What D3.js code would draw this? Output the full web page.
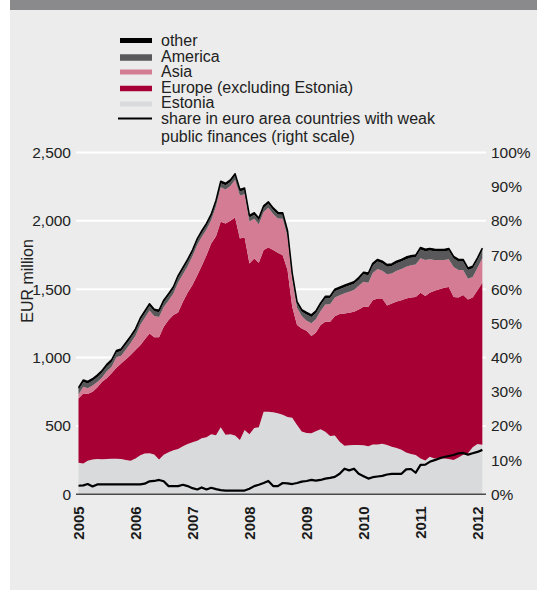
<!DOCTYPE html>
<html><head><meta charset="utf-8">
<script src="https://cdn.jsdelivr.net/npm/d3@7/dist/d3.min.js"></script>
<style>
html,body{margin:0;padding:0;background:#fff;}
svg text{font-family:"Liberation Sans",Arial,Helvetica,sans-serif;}
</style></head>
<body><svg id="c" width="537" height="590"></svg>
<script>
const months = ["2005-01","2005-02","2005-03","2005-04","2005-05","2005-06","2005-07","2005-08","2005-09","2005-10","2005-11","2005-12",
"2006-01","2006-02","2006-03","2006-04","2006-05","2006-06","2006-07","2006-08","2006-09","2006-10","2006-11","2006-12",
"2007-01","2007-02","2007-03","2007-04","2007-05","2007-06","2007-07","2007-08","2007-09","2007-10","2007-11","2007-12",
"2008-01","2008-02","2008-03","2008-04","2008-05","2008-06","2008-07","2008-08","2008-09","2008-10","2008-11","2008-12",
"2009-01","2009-02","2009-03","2009-04","2009-05","2009-06","2009-07","2009-08","2009-09","2009-10","2009-11","2009-12",
"2010-01","2010-02","2010-03","2010-04","2010-05","2010-06","2010-07","2010-08","2010-09","2010-10","2010-11","2010-12",
"2011-01","2011-02","2011-03","2011-04","2011-05","2011-06","2011-07","2011-08","2011-09","2011-10","2011-11","2011-12",
"2012-01","2012-02"];

// EUR million
const estonia = [231,226,245,255,258,256,258,260,260,258,250,246,262,285,298,300,292,255,290,308,322,332,352,368,380,392,410,418,440,432,490,435,440,430,397,470,440,485,490,604,604,600,592,582,565,560,507,460,448,446,462,475,458,426,430,385,355,358,360,360,358,352,365,365,370,360,348,338,325,305,294,288,262,248,275,262,268,262,258,250,270,290,300,345,368,362];
const europe = [469,512,488,495,524,567,590,625,666,699,737,772,793,806,835,877,856,893,935,966,989,998,1056,1106,1150,1211,1259,1331,1395,1456,1503,1545,1560,1595,1474,1410,1249,1240,1203,1182,1201,1186,1174,1167,1075,811,731,753,748,711,719,763,804,836,873,933,968,970,975,992,1013,1019,1055,1068,1063,1021,1048,1073,1095,1128,1146,1156,1212,1202,1199,1227,1231,1248,1259,1194,1170,1167,1125,1095,1125,1185];
const asia = [30,48,42,45,40,32,52,48,76,56,73,89,105,149,157,167,156,149,145,144,157,220,201,194,211,223,213,187,169,218,252,250,255,275,314,315,306,290,282,279,290,264,251,266,245,204,127,92,74,95,99,102,126,128,137,137,147,154,160,173,184,177,199,215,202,229,219,224,228,232,235,236,253,264,246,225,214,203,203,218,200,183,152,150,164,180];
const america = [35,35,35,35,35,35,35,35,35,35,35,35,35,35,35,35,35,35,35,35,35,35,35,35,30,30,30,30,30,30,30,30,30,30,30,30,30,30,30,30,30,30,30,30,30,30,30,30,45,45,45,45,45,45,45,45,45,45,45,45,55,55,55,55,55,55,55,55,55,55,55,55,63,63,63,63,63,63,63,63,63,63,63,63,58,58];
const other = [15,15,15,15,15,15,15,15,15,15,15,15,15,15,15,15,15,15,15,15,15,15,15,15,15,15,15,15,15,15,15,15,15,15,15,15,15,15,15,15,15,15,15,15,15,15,15,15,15,15,15,15,15,15,15,15,15,15,15,15,15,15,15,15,15,15,15,15,15,15,15,15,15,15,15,15,15,15,15,15,15,15,15,15,15,15];
// per cent, right scale
const share = [2.5,2.6,3.0,2.3,2.9,2.9,2.9,2.9,2.9,2.9,2.9,2.9,2.9,2.9,3.1,3.8,3.9,4.2,3.8,2.4,2.4,2.4,2.8,2.4,1.8,1.4,2.0,1.4,1.9,1.5,1.2,1.05,1.05,1.05,1.05,1.1,1.6,2.4,2.8,3.3,3.9,2.4,2.4,3.3,3.2,3.0,3.3,3.7,3.9,4.2,4.0,4.2,4.6,4.8,5.1,6.0,7.5,7.0,7.5,6.0,5.3,4.6,5.0,5.2,5.4,5.8,6.0,6.0,6.0,7.3,7.4,6.3,8.6,8.7,9.5,10.0,10.5,10.9,11.2,11.5,12.0,12.1,11.6,12.0,12.4,13.0];

const leftTicks = [0,500,1000,1500,2000,2500];
const rightTicks = [0,10,20,30,40,50,60,70,80,90,100];
const yearTicks = ["2005","2006","2007","2008","2009","2010","2011","2012"];

const seriesKeys = ["Estonia","Europe (excluding Estonia)","Asia","America","other"];
const seriesArrays = [estonia, europe, asia, america, other];
const colors = {"Estonia":"#d9dadc","Europe (excluding Estonia)":"#a70034","Asia":"#d47c93","America":"#58585b","other":"#000000"};

const parse = d3.timeParse("%Y-%m");
const rows = months.map((m,i)=>{
  const o = {date: parse(m), share: share[i]};
  seriesKeys.forEach((k,j)=>o[k]=seriesArrays[j][i]);
  return o;
});

const svg = d3.select("#c");
svg.append("rect").attr("x",10).attr("y",0).attr("width",527).attr("height",10).attr("fill","#8a8a8c");
svg.append("rect").attr("x",10).attr("y",10).attr("width",527).attr("height",580).attr("fill","#ebeceb");

const x = d3.scaleTime().domain([parse("2005-01"), parse("2012-01")]).range([78.5, 477.5]);
const y = d3.scaleLinear().domain([0,2500]).range([494.3,152.5]);
const yR = d3.scaleLinear().domain([0,100]).range([494.3,152.5]);
const gx0 = 76, gx1 = 486;

// gridlines
svg.append("g").selectAll("line").data(leftTicks.filter(d=>d>0)).join("line")
  .attr("x1",gx0).attr("x2",gx1).attr("y1",d=>y(d)).attr("y2",d=>y(d))
  .attr("stroke","#ffffff").attr("stroke-width",2);

// stacked areas
const stackGen = d3.stack().keys(seriesKeys);
const layers = stackGen(rows);
const area = d3.area().x(d=>x(d.data.date)).y0(d=>y(d[0])).y1(d=>y(d[1]));
svg.append("g").selectAll("path").data(layers).join("path")
  .attr("d",area).attr("fill",d=>colors[d.key]);

// top outline
const topLayer = layers[layers.length-1];
svg.append("path").datum(topLayer)
  .attr("d", d3.line().x(d=>x(d.data.date)).y(d=>y(d[1])))
  .attr("fill","none").attr("stroke","#000").attr("stroke-width",1.5).attr("stroke-linejoin","round");

// baseline
svg.append("line").attr("x1",gx0).attr("x2",gx1).attr("y1",y(0)).attr("y2",y(0))
  .attr("stroke","#4a4a4a").attr("stroke-width",1.5);

// share line
svg.append("path").datum(rows)
  .attr("d", d3.line().x(d=>x(d.date)).y(d=>yR(d.share)))
  .attr("fill","none").attr("stroke","#000").attr("stroke-width",2.2).attr("stroke-linejoin","round");

// axes
const ax = svg.append("g").attr("transform",`translate(${gx0},0)`)
  .call(d3.axisLeft(y).tickValues(leftTicks).tickFormat(d3.format(",")).tickSize(0).tickPadding(5));
ax.select(".domain").remove();
ax.selectAll("text").attr("font-size","15.5px").attr("fill","#222").style("font-family","'Liberation Sans',Arial,sans-serif");

const ar = svg.append("g").attr("transform",`translate(${gx1},0)`)
  .call(d3.axisRight(yR).tickValues(rightTicks).tickFormat(d=>d+"%").tickSize(0).tickPadding(5));
ar.select(".domain").remove();
ar.selectAll("text").attr("font-size","15.5px").attr("fill","#222").style("font-family","'Liberation Sans',Arial,sans-serif");

const ab = svg.append("g").attr("transform",`translate(0,${y(0)})`)
  .call(d3.axisBottom(x).tickValues(yearTicks.map(t=>d3.timeParse("%Y")(t))).tickFormat(d3.timeFormat("%Y")).tickSize(0));
ab.select(".domain").remove();
ab.selectAll("text").attr("transform","rotate(-90)").attr("x",-12).attr("y",0).attr("dy","0.36em")
  .attr("text-anchor","end").attr("font-size","15px").attr("font-weight","bold").attr("fill","#1a1a1a")
  .style("font-family","'Liberation Sans',Arial,sans-serif");

// y axis title
svg.append("text").attr("transform","translate(27,281) rotate(-90)").attr("text-anchor","middle")
  .attr("dominant-baseline","central").attr("font-size","16px").attr("fill","#222").text("EUR million");

// legend
const legendItems = [
  {key:"other", cy:40.5, h:5, ty:40},
  {key:"America", cy:57.5, h:6.5, ty:56},
  {key:"Asia", cy:72, h:5, ty:71},
  {key:"Europe (excluding Estonia)", cy:88.5, h:5.5, ty:87},
  {key:"Estonia", cy:104, h:5, ty:102}
];
const lg = svg.append("g");
lg.selectAll("rect").data(legendItems).join("rect")
  .attr("x",120).attr("width",32).attr("y",d=>d.cy-d.h/2).attr("height",d=>d.h).attr("fill",d=>colors[d.key]);
lg.selectAll("text.k").data(legendItems).join("text").attr("class","k")
  .attr("x",161).attr("y",d=>d.ty).attr("dominant-baseline","central").attr("font-size","16px").attr("fill","#222").text(d=>d.key);
lg.append("line").attr("x1",118).attr("x2",152).attr("y1",118.5).attr("y2",118.5).attr("stroke","#000").attr("stroke-width",2.2);
lg.append("text").attr("x",161).attr("y",118.3).attr("dominant-baseline","central").attr("font-size","16px").attr("fill","#222").text("share in euro area countries with weak");
lg.append("text").attr("x",161).attr("y",136.7).attr("dominant-baseline","central").attr("font-size","16px").attr("fill","#222").text("public finances (right scale)");
</script></body></html>
